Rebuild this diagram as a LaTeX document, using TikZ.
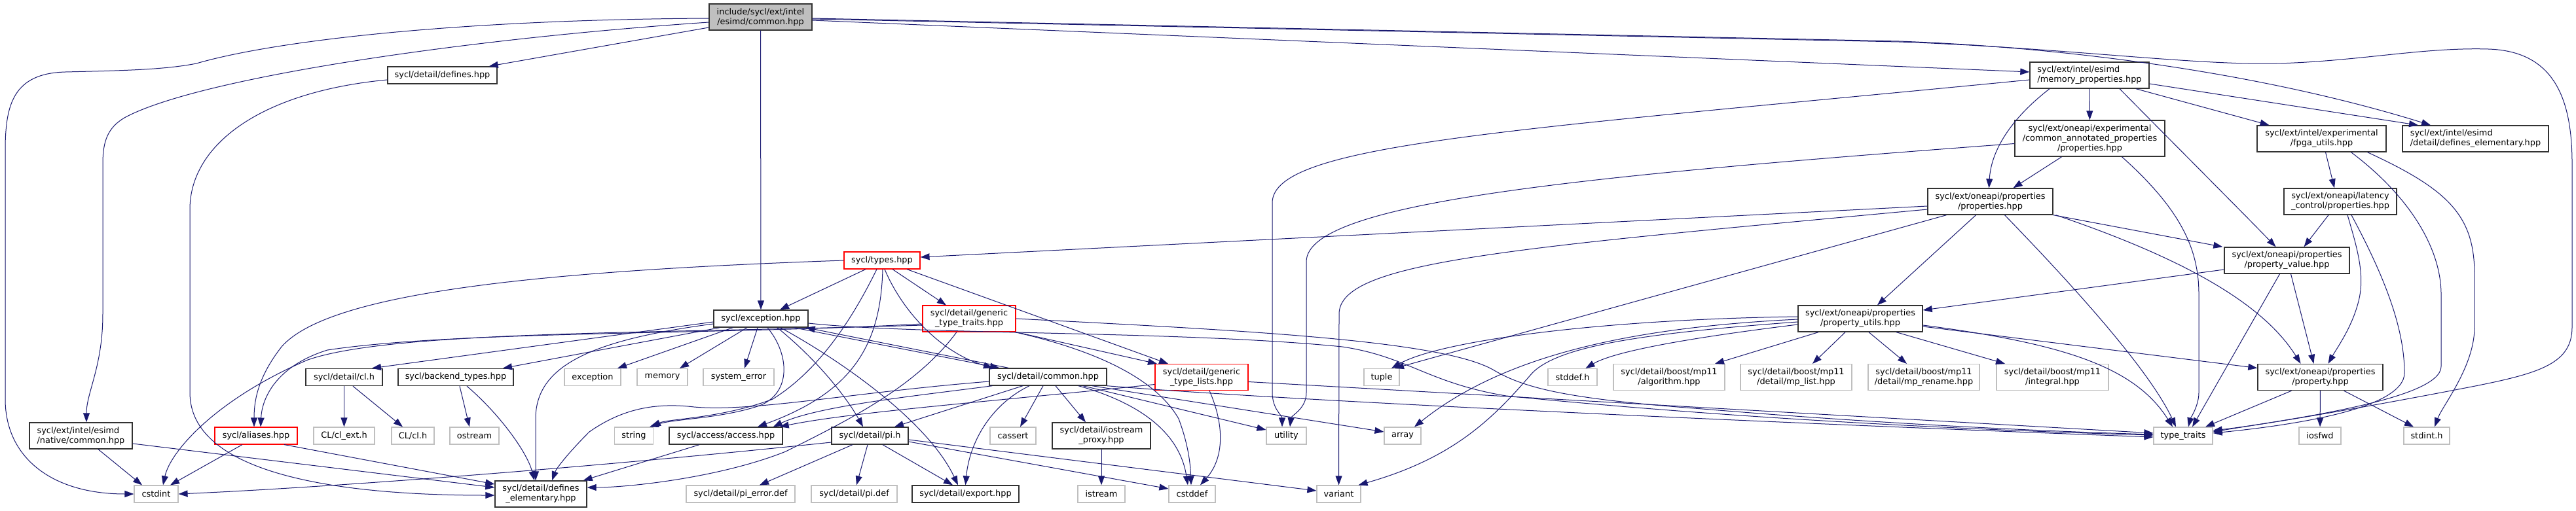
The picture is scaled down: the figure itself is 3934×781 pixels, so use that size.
\documentclass[tikz,border=0pt]{standalone}
\usepackage{fontspec}
\setmainfont{DejaVu Sans}
\usetikzlibrary{arrows.meta}
\definecolor{edgec}{RGB}{25,25,112}
\definecolor{gborder}{RGB}{191,191,191}
\definecolor{rootfill}{RGB}{191,191,191}
\definecolor{kborder}{RGB}{50,50,50}
\begin{document}
\begin{tikzpicture}[x=1pt,y=-1pt,
  nbase/.style={rectangle, inner sep=0pt, align=center, font=\fontsize{12.9pt}{15pt}\selectfont, line width=1.4pt, fill=white},
  nk/.style={nbase, draw=kborder},
  ng/.style={nbase, draw=gborder, line width=1.2pt},
  nr/.style={nbase, draw=red, line width=1.1pt},
  sa/.style={minimum height=26pt},
  sb/.style={minimum height=40pt},
  lnk/.style={draw=edgec, line width=1pt, -{Triangle[length=14pt,width=10pt]}},
]
\fill[white] (0,0) rectangle (3934,781);
\useasboundingbox (0,0) rectangle (3934,781);

% ---------- nodes ----------
\node[nk, sb, fill=rootfill, minimum width=157pt] (root) at (1161.5,26) {include/sycl/ext/intel\\/esimd/common.hpp};
\node[nk, sa, minimum width=167pt] (defs) at (675.5,115) {sycl/detail/defines.hpp};
\node[nk, sb, align=left, minimum width=157pt] (native) at (123.5,666) {sycl/ext/intel/esimd\\/native/common.hpp};
\node[ng, sa, minimum width=67pt] (cstdint) at (238.5,755) {cstdint};
\node[nr, sa, minimum width=126pt] (aliases) at (391,666) {sycl/aliases.hpp};
\node[ng, sa, minimum width=93pt] (clext) at (525.5,666) {CL/cl\_ext.h};
\node[ng, sa, minimum width=65pt] (clcl) at (630.5,666) {CL/cl.h};
\node[ng, sa, minimum width=75pt] (ostream) at (724.5,666) {ostream};
\node[nk, sa, minimum width=117pt] (detcl) at (525.5,576.5) {sycl/detail/cl.h};
\node[nk, sa, minimum width=176pt] (backend) at (696,576.5) {sycl/backend\_types.hpp};
\node[ng, sa, minimum width=86pt] (stdexc) at (905,576.5) {exception};
\node[ng, sa, minimum width=77pt] (memory) at (1011.5,576.5) {memory};
\node[ng, sa, minimum width=108pt] (syserr) at (1128,576.5) {system\_error};
\node[ng, sa, minimum width=59pt] (string) at (968,666) {string};
\node[nk, sb, minimum width=140pt] (defel) at (826,755) {sycl/detail/defines\\\_elementary.hpp};
\node[nr, sa, minimum width=116pt] (types) at (1347,398) {sycl/types.hpp};
\node[nk, sa, minimum width=144pt] (exc) at (1162,487) {sycl/exception.hpp};
\node[nr, sb, minimum width=142pt] (gtt) at (1480,487) {sycl/detail/generic\\\_type\_traits.hpp};
\node[nk, sa, minimum width=179pt] (common) at (1600.5,576) {sycl/detail/common.hpp};
\node[nr, sb, minimum width=142pt] (gtl) at (1835,576.5) {sycl/detail/generic\\\_type\_lists.hpp};
\node[nk, sa, minimum width=173pt] (access) at (1108.5,666) {sycl/access/access.hpp};
\node[nk, sa, minimum width=117pt] (pi) at (1328.5,666) {sycl/detail/pi.h};
\node[ng, sa, minimum width=70pt] (cassert) at (1547,666) {cassert};
\node[nk, sb, minimum width=150pt] (iosp) at (1682,666) {sycl/detail/iostream\\\_proxy.hpp};
\node[ng, sa, minimum width=61pt] (utility) at (1964.5,666) {utility};
\node[ng, sa, minimum width=166pt] (pierr) at (1131,755) {sycl/detail/pi\_error.def};
\node[ng, sa, minimum width=131pt] (pidef) at (1304.5,755) {sycl/detail/pi.def};
\node[nk, sa, minimum width=163pt] (export) at (1474.5,755) {sycl/detail/export.hpp};
\node[ng, sa, minimum width=72pt] (istream) at (1682,755) {istream};
\node[ng, sa, minimum width=71pt] (cstddef) at (1820.5,755) {cstddef};
\node[ng, sa, minimum width=67pt] (variant) at (2044.5,755) {variant};
\node[ng, sa, minimum width=54pt] (tuple) at (2110,576.5) {tuple};
\node[ng, sa, minimum width=56pt] (array) at (2142,666) {array};
\node[ng, sa, minimum width=75pt] (stddefh) at (2401.5,576.5) {stddef.h};
\node[ng, sb, minimum width=170pt] (algo) at (2549,576.5) {sycl/detail/boost/mp11\\/algorithm.hpp};
\node[ng, sb, minimum width=170pt] (mplist) at (2743,576.5) {sycl/detail/boost/mp11\\/detail/mp\_list.hpp};
\node[ng, sb, minimum width=170pt] (mpren) at (2938,576.5) {sycl/detail/boost/mp11\\/detail/mp\_rename.hpp};
\node[ng, sb, minimum width=171pt] (integral) at (3134.5,576.5) {sycl/detail/boost/mp11\\/integral.hpp};
\node[nk, sb, minimum width=190pt] (putils) at (2841,487) {sycl/ext/oneapi/properties\\/property\_utils.hpp};
\node[ng, sa, minimum width=90pt] (ttraits) at (3334,666) {type\_traits};
\node[ng, sa, minimum width=64pt] (iosfwd) at (3543,666) {iosfwd};
\node[ng, sa, minimum width=70pt] (stdinth) at (3706,666) {stdint.h};
\node[nk, sb, minimum width=191pt] (property) at (3543.5,576.5) {sycl/ext/oneapi/properties\\/property.hpp};
\node[nk, sb, minimum width=191pt] (pvalue) at (3492.5,398) {sycl/ext/oneapi/properties\\/property\_value.hpp};
\node[nk, sb, minimum width=191pt] (props) at (3039.5,308) {sycl/ext/oneapi/properties\\/properties.hpp};
\node[nk, sb, minimum width=172pt] (latency) at (3574,308) {sycl/ext/oneapi/latency\\\_control/properties.hpp};
\node[nk, minimum height=55pt, minimum width=229pt] (cap) at (3191.5,211.5) {sycl/ext/oneapi/experimental\\/common\_annotated\_properties\\/properties.hpp};
\node[nk, sb, minimum width=197pt] (fpga) at (3545.5,212) {sycl/ext/intel/experimental\\/fpga\_utils.hpp};
\node[nk, sb, align=left, minimum width=223pt] (esdefel) at (3780.5,212) {sycl/ext/intel/esimd\\/detail/defines\_elementary.hpp};
\node[nk, sb, align=left, minimum width=182pt] (memprops) at (3191,115) {sycl/ext/intel/esimd\\/memory\_properties.hpp};

% ---------- root edges ----------
\draw[lnk] ([yshift=-2pt]root.west) .. controls (700,30) and (420,62) .. (300,97) .. controls (250,107) and (180,108) .. (100,110) .. controls (20,112) and (8,160) .. (8,230) -- (8,610) .. controls (8,700) and (80,755) .. (cstdint.west);
\draw[lnk] ([yshift=-8pt]root.west) .. controls (700,60) and (300,120) .. (190,180) .. controls (165,195) and (157,215) .. (157,250) -- (157,480) .. controls (157,560) and (132,600) .. ([xshift=8.5pt]native.north);
\draw[lnk] ([yshift=-16pt]root.west) -- ([xshift=-13pt]defs.north east);
\draw[lnk] (root) -- (exc);
\draw[lnk] ([yshift=-5pt]root.east) -- ([yshift=5pt]memprops.west);
\draw[lnk] ([yshift=-2pt]root.east) -- (2900,63) .. controls (3150,72) and (3450,110) .. ([xshift=-68.5pt]esdefel.north);
\draw[lnk] ([yshift=-3pt]root.east) -- (2900,64) .. controls (3150,73) and (3350,100) .. (3476,97) .. controls (3600,94) and (3700,72) .. (3800,75) .. controls (3900,78) and (3928,150) .. (3928,250) -- (3928,500) .. controls (3928,555) and (3880,570) .. (3780,590) .. controls (3600,625) and (3450,650) .. ([yshift=8pt]ttraits.east);

% ---------- memory_properties ----------
\draw[lnk] ([xshift=-61pt]memprops.south) .. controls (3060,190) and (3040,240) .. ([xshift=-2pt]props.north);
\draw[lnk] (memprops) -- (cap);
\draw[lnk] ([xshift=46pt]memprops.south) .. controls (3330,230) and (3420,320) .. ([xshift=-17pt]pvalue.north);
\draw[lnk] ([xshift=71pt]memprops.south) -- ([xshift=-80pt]fpga.north);
\draw[lnk] ([yshift=-13pt]memprops.east) -- ([xshift=-87.5pt]esdefel.north);
\draw[lnk] ([yshift=-7pt]memprops.west) .. controls (2300,200) and (1943,220) .. (1943,310) -- (1943,600) .. controls (1943,625) and (1958,635) .. ([xshift=-6.5pt]utility.north);

% ---------- common_annotated_properties ----------
\draw[lnk] ([xshift=-43pt]cap.south) -- ([xshift=35pt]props.north);
\draw[lnk] ([xshift=49pt]cap.south) .. controls (3330,320) and (3358,380) .. (3358,450) -- (3358,600) .. controls (3358,620) and (3345,640) .. ([xshift=8pt]ttraits.north);
\draw[lnk] ([yshift=-8pt]cap.west) .. controls (2400,270) and (1995,310) .. (1995,400) -- (1995,600) .. controls (1995,625) and (1972,635) .. ([xshift=5.5pt]utility.north);

% ---------- fpga / latency ----------
\draw[lnk] ([xshift=6pt]fpga.south) -- ([xshift=-9pt]latency.north);
\draw[lnk] ([xshift=45pt]fpga.south) .. controls (3680,300) and (3728,380) .. (3728,450) -- (3728,560) .. controls (3728,610) and (3500,640) .. ([yshift=6pt]ttraits.east);
\draw[lnk] ([xshift=70pt]fpga.south) .. controls (3740,290) and (3779,330) .. (3779,420) -- (3779,500) .. controls (3779,560) and (3730,620) .. ([xshift=12pt]stdinth.north);
\draw[lnk] ([xshift=-18pt]latency.south) -- ([xshift=26pt]pvalue.north);
\draw[lnk] ([xshift=11pt]latency.south) .. controls (3600,380) and (3612,420) .. (3602,460) .. controls (3592,500) and (3570,530) .. ([xshift=12pt]property.north);
\draw[lnk] ([xshift=17pt]latency.south) .. controls (3640,420) and (3672,500) .. (3672,570) .. controls (3672,625) and (3500,650) .. ([yshift=4pt]ttraits.east);

% ---------- property_value ----------
\draw[lnk] ([yshift=-14pt]pvalue.west) -- ([yshift=13pt]putils.east);
\draw[lnk] ([xshift=-11pt]pvalue.south) -- ([xshift=14pt]ttraits.north);
\draw[lnk] ([xshift=6pt]pvalue.south) -- ([xshift=-10pt]property.north);

% ---------- properties.hpp ----------
\draw[lnk] ([yshift=-7pt]props.west) -- ([yshift=5pt]types.east);
\draw[lnk] ([yshift=-12pt]props.west) .. controls (2300,380) and (2045,400) .. (2045,480) -- (variant);
\draw[lnk] ([xshift=-67pt]props.south) -- ([xshift=20pt]tuple.north);
\draw[lnk] ([xshift=-22pt]props.south) -- ([xshift=26pt]putils.north);
\draw[lnk] ([xshift=22pt]props.south) .. controls (3150,420) and (3280,560) .. ([xshift=-11pt]ttraits.north);
\draw[lnk] (props.south east) -- ([xshift=-2pt]pvalue.north west);
\draw[lnk] ([xshift=4pt]props.south east) .. controls (3350,400) and (3460,470) .. ([xshift=-30pt]property.north);

% ---------- property.hpp ----------
\draw[lnk] ([xshift=-44pt]property.south) -- ([xshift=34pt]ttraits.north);
\draw[lnk] (property) -- (iosfwd);
\draw[lnk] ([xshift=36pt]property.south) -- ([xshift=-20pt]stdinth.north);

% ---------- property_utils ----------
\draw[lnk] ([yshift=3pt]putils.west) .. controls (2450,488) and (2200,520) .. ([xshift=15pt]tuple.north);
\draw[lnk] ([yshift=-1pt]putils.west) .. controls (2500,500) and (2300,540) .. ([xshift=18pt]array.north);
\draw[lnk] ([yshift=-5pt]putils.west) .. controls (2500,510) and (2380,530) .. (2340,570) .. controls (2280,640) and (2220,700) .. ([xshift=30pt]variant.north);
\draw[lnk] ([yshift=-9pt]putils.west) .. controls (2550,520) and (2460,540) .. ([xshift=20pt]stddefh.north);
\draw[lnk] ([xshift=-64pt]putils.south) -- ([xshift=70pt]algo.north);
\draw[lnk] ([xshift=-23pt]putils.south) -- ([xshift=25pt]mplist.north);
\draw[lnk] ([xshift=13pt]putils.south) -- ([xshift=-26pt]mpren.north);
\draw[lnk] ([xshift=55pt]putils.south) -- ([xshift=-72.5pt]integral.north);
\draw[lnk] ([yshift=-10pt]putils.east) .. controls (3150,525) and (3260,560) .. ([xshift=-16pt]ttraits.north);
\draw[lnk] ([yshift=-12pt]putils.east) -- ([yshift=14pt]property.west);

% ---------- sycl/types.hpp ----------
\draw[lnk] (types.west) .. controls (800,415) and (500,450) .. (430,530) .. controls (395,575) and (388,610) .. ([xshift=-3pt]aliases.north);
\draw[lnk] ([xshift=-25pt]types.south) -- ([xshift=29pt]exc.north);
\draw[lnk] ([xshift=-8pt]types.south) .. controls (1310,470) and (1260,560) .. (1180,610) .. controls (1100,640) and (1020,640) .. ([xshift=27pt]string.north);
\draw[lnk] ([xshift=1pt]types.south) .. controls (1345,530) and (1300,600) .. ([xshift=48.5pt]access.north);
\draw[lnk] ([xshift=4pt]types.south) .. controls (1380,480) and (1440,540) .. ([xshift=-84.5pt]common.north);
\draw[lnk] ([xshift=16pt]types.south) -- ([xshift=-35pt]gtt.north);
\draw[lnk] ([xshift=38pt]types.south) -- ([xshift=-51pt]gtl.north);

% ---------- sycl/exception.hpp ----------
\draw[lnk] ([xshift=-22pt]exc.south east) -- ([xshift=-74.5pt]common.north);
\draw[lnk] ([xshift=-60.5pt]common.north) -- ([xshift=-4pt]exc.south east);
\draw[lnk] ([yshift=-7pt]exc.east) .. controls (1400,512) and (1800,505) .. (2050,530) .. controls (2150,545) and (2180,585) .. (2300,605) .. controls (2700,645) and (3100,660) .. ([yshift=1pt]ttraits.west);
\draw[lnk] ([yshift=-8pt]exc.west) .. controls (900,520) and (818,560) .. (818,640) -- ([xshift=-8pt]defel.north);
\draw[lnk] ([yshift=-5pt]exc.west) -- ([xshift=42.5pt]detcl.north);
\draw[lnk] ([xshift=10pt]exc.south west) -- ([xshift=72pt]backend.north);
\draw[lnk] ([xshift=30pt]exc.south west) -- ([xshift=38pt]stdexc.north);
\draw[lnk] ([xshift=-21pt]exc.south) -- ([xshift=26.5pt]memory.north);
\draw[lnk] ([xshift=-5pt]exc.south) -- ([xshift=9pt]syserr.north);
\draw[lnk] ([xshift=10pt]exc.south) .. controls (1205,540) and (1210,600) .. (1160,620) .. controls (1100,640) and (1030,640) .. ([xshift=24pt]string.north);
\draw[lnk] ([xshift=25pt]exc.south) .. controls (1260,560) and (1300,620) .. ([xshift=-10.5pt]pi.north);
\draw[lnk] ([xshift=30pt]exc.south) .. controls (1300,560) and (1420,650) .. ([xshift=-11.5pt]export.north);

% ---------- generic_type_traits ----------
\draw[lnk] ([yshift=-8pt]gtt.west) .. controls (1100,512) and (700,505) .. (500,535) .. controls (420,560) and (400,610) .. ([xshift=7pt]aliases.north);
\draw[lnk] ([yshift=-10pt]gtt.west) .. controls (1000,510) and (600,505) .. (470,550) .. controls (330,610) and (260,690) .. ([xshift=10.5pt]cstdint.north);
\draw[lnk] ([xshift=-19pt]gtt.south) .. controls (1400,590) and (1300,640) .. (1200,690) .. controls (1100,730) and (960,745) .. ([yshift=10pt]defel.east);
\draw[lnk] (gtt.south east) -- ([xshift=-68pt]gtl.north);
\draw[lnk] ([xshift=-2pt]gtt.south east) .. controls (1650,530) and (1760,570) .. (1800,640) .. controls (1815,680) and (1818,710) .. ([xshift=-1.5pt]cstddef.north);
\draw[lnk] (gtt.east) .. controls (1900,505) and (2200,520) .. (2280,565) .. controls (2330,595) and (2400,610) .. (2600,625) .. controls (2900,650) and (3150,660) .. ([yshift=2pt]ttraits.west);

% ---------- sycl/detail/common.hpp ----------
\draw[lnk] ([yshift=-7pt]common.west) .. controls (1300,600) and (1150,630) .. (1060,622) .. controls (1000,615) and (950,625) .. (900,660) .. controls (870,690) and (850,715) .. ([xshift=17pt]defel.north);
\draw[lnk] ([xshift=5pt]common.south west) .. controls (1400,605) and (1250,620) .. ([xshift=-15pt]access.north east);
\draw[lnk] ([xshift=-38.5pt]common.south) -- ([xshift=37.5pt]pi.north);
\draw[lnk] ([xshift=-28.5pt]common.south) .. controls (1510,620) and (1480,680) .. (export.north);
\draw[lnk] ([xshift=-7.5pt]common.south) -- ([xshift=11pt]cassert.north);
\draw[lnk] ([xshift=11.5pt]common.south) -- ([xshift=-24pt]iosp.north);
\draw[lnk] ([xshift=46.5pt]common.south) .. controls (1720,610) and (1800,650) .. ([xshift=-6.5pt]cstddef.north);
\draw[lnk] ([xshift=53.5pt]common.south) -- ([yshift=9pt]utility.west);
\draw[lnk] ([xshift=67.5pt]common.south) -- ([yshift=6pt]array.west);
\draw[lnk] (common.south east) .. controls (2000,615) and (2800,650) .. ([yshift=-2pt]ttraits.west);

% ---------- generic_type_lists ----------
\draw[lnk] ([yshift=-11pt]gtl.west) .. controls (1500,615) and (1300,630) .. ([xshift=-5pt]access.north east);
\draw[lnk] ([xshift=12pt]gtl.south) .. controls (1870,650) and (1870,700) .. ([xshift=12.5pt]cstddef.north);
\draw[lnk] ([yshift=-7pt]gtl.east) .. controls (2200,600) and (2900,640) .. ([yshift=4pt]ttraits.west);

% ---------- pi.h ----------
\draw[lnk] ([xshift=-26.5pt]pi.south) -- ([xshift=29pt]pierr.north);
\draw[lnk] ([xshift=-3.5pt]pi.south) -- ([xshift=3.5pt]pidef.north);
\draw[lnk] ([xshift=19.5pt]pi.south) -- ([xshift=-19.5pt]export.north);
\draw[lnk] ([yshift=-9pt]pi.east) -- ([yshift=8pt]cstddef.west);
\draw[lnk] ([yshift=-6pt]pi.east) -- ([yshift=5pt]variant.west);
\draw[lnk] ([yshift=-10pt]pi.west) .. controls (900,715) and (500,745) .. (cstdint.east);

% ---------- others ----------
\draw[lnk] ([xshift=-40.5pt]access.south) -- ([xshift=-6pt]defel.north east);
\draw[lnk] ([xshift=-21pt]aliases.south) -- ([xshift=21.5pt]cstdint.north);
\draw[lnk] ([xshift=43pt]aliases.south) -- ([yshift=15pt]defel.west);
\draw[lnk] ([xshift=26.5pt]native.south) -- ([xshift=-21.5pt]cstdint.north);
\draw[lnk] ([yshift=-12pt]native.east) -- ([yshift=10pt]defel.west);
\draw[lnk] ([yshift=-7pt]defs.west) .. controls (400,140) and (290,220) .. (290,320) -- (290,600) .. controls (290,720) and (500,757) .. ([yshift=-2pt]defel.west);
\draw[lnk] (detcl) -- (clext);
\draw[lnk] ([xshift=13.5pt]detcl.south) -- ([xshift=-15.5pt]clcl.north);
\draw[lnk] ([xshift=6pt]backend.south) -- ([xshift=-7.5pt]ostream.north);
\draw[lnk] ([xshift=17pt]backend.south) .. controls (760,630) and (805,690) .. ([xshift=-10pt]defel.north);
\draw[lnk] (iosp) -- (istream);
\end{tikzpicture}
\end{document}
